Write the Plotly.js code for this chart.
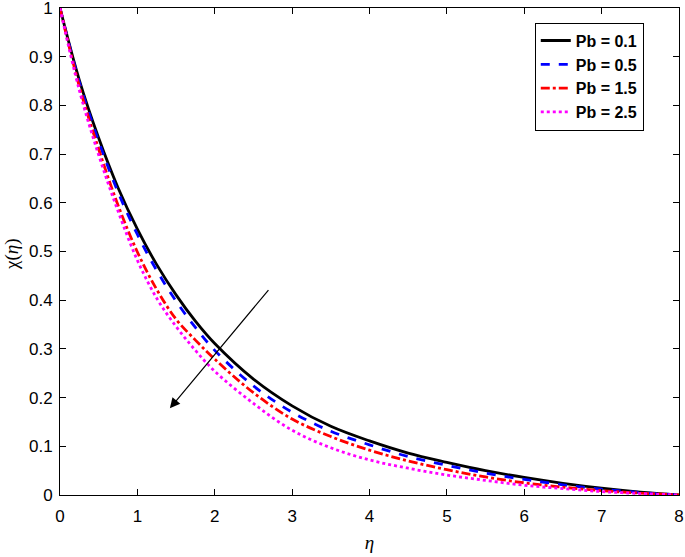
<!DOCTYPE html>
<html>
<head>
<meta charset="utf-8">
<script src="https://cdn.plot.ly/plotly-3.0.1.min.js"></script>
<style>body{margin:0;background:#fff}</style>
</head>
<body>
<div id="plot" style="width:685px;height:557px"></div>
<script>
const eta = [0, 0.25, 0.5, 0.75, 1, 1.25, 1.5, 1.75, 2, 2.5, 3, 3.5, 4, 4.5, 5, 5.5, 6, 6.5, 7, 7.5, 8];
const chiPb01 = [1, 0.852, 0.733, 0.631, 0.546, 0.473, 0.411, 0.357, 0.311, 0.238, 0.183, 0.141, 0.111, 0.086, 0.067, 0.050, 0.036, 0.024, 0.014, 0.006, 0];
const chiPb05 = [1, 0.848, 0.726, 0.622, 0.535, 0.461, 0.398, 0.344, 0.297, 0.224, 0.170, 0.131, 0.103, 0.079, 0.061, 0.045, 0.032, 0.021, 0.012, 0.005, 0];
const chiPb15 = [1, 0.839, 0.710, 0.595, 0.499, 0.422, 0.361, 0.318, 0.279, 0.210, 0.156, 0.120, 0.092, 0.070, 0.052, 0.037, 0.025, 0.016, 0.009, 0.004, 0];
const chiPb25 = [1, 0.831, 0.698, 0.583, 0.482, 0.404, 0.346, 0.297, 0.254, 0.188, 0.133, 0.097, 0.072, 0.055, 0.041, 0.030, 0.020, 0.013, 0.007, 0.003, 0];
const names = ['Pb = 0.1', 'Pb = 0.5', 'Pb = 1.5', 'Pb = 2.5'];
const yTicks = [0, 0.1, 0.2, 0.3, 0.4, 0.5, 0.6, 0.7, 0.8, 0.9, 1];
const yTickText = ['0', '0.1', '0.2', '0.3', '0.4', '0.5', '0.6', '0.7', '0.8', '0.9', '1'];

const styles = [
    { color: 'black', dash: 'solid' },
    { color: '#0000ff', dash: 'dash' },
    { color: '#ff0000', dash: 'dashdot' },
    { color: '#ff00ff', dash: 'dot' }
];

const traces = [chiPb01, chiPb05, chiPb15, chiPb25].map((ys, i) => ({
    x: eta,
    y: ys,
    mode: 'lines',
    type: 'scatter',
    name: names[i],
    line: { color: styles[i].color, dash: styles[i].dash, width: 2.8, shape: 'spline', smoothing: 1 }
}));

const axisCommon = {
    showline: true,
    mirror: 'ticks',
    linecolor: 'black',
    linewidth: 1,
    ticks: 'inside',
    ticklen: 6,
    tickcolor: 'black',
    showgrid: false,
    zeroline: false,
    ticklabeloverflow: 'allow',
    tickfont: { family: 'Liberation Sans, Arial', size: 17, color: 'black' }
};

Plotly.newPlot('plot', traces, {
    width: 685,
    height: 557,
    margin: { l: 60, r: 6, t: 8, b: 62 },
    paper_bgcolor: 'white',
    plot_bgcolor: 'white',
    showlegend: true,
    legend: {
        x: 0.767, y: 0.97, xanchor: 'left', yanchor: 'top',
        bordercolor: 'black', borderwidth: 1, bgcolor: 'white',
        font: { family: 'Liberation Sans, Arial', size: 16, color: 'black', weight: 'bold' },
        tracegroupgap: 0
    },
    xaxis: Object.assign({}, axisCommon, {
        range: [0, 8], dtick: 1, ticklabelstandoff: 6,
        title: { text: '<i>η</i>', font: { family: 'Liberation Serif, Times New Roman', size: 19, color: 'black' }, standoff: 10 }
    }),
    yaxis: Object.assign({}, axisCommon, {
        range: [0, 1], tickmode: 'array', tickvals: yTicks, ticktext: yTickText, ticklabelstandoff: 3
    }),
    annotations: [{
        x: 1.42, y: 0.178, ax: 2.71, ay: 0.424,
        xref: 'x', yref: 'y', axref: 'x', ayref: 'y',
        showarrow: true, arrowhead: 2, arrowsize: 1.7, arrowwidth: 1.2, arrowcolor: 'black', text: ''
    }, {
        x: -0.0775, y: 0.495, xref: 'paper', yref: 'paper',
        xanchor: 'center', yanchor: 'middle',
        text: 'χ(<i>η</i>)', showarrow: false, textangle: -90,
        font: { family: 'Liberation Serif, Times New Roman', size: 19, color: 'black' }
    }]
}, { displayModeBar: false });
</script>
</body>
</html>
